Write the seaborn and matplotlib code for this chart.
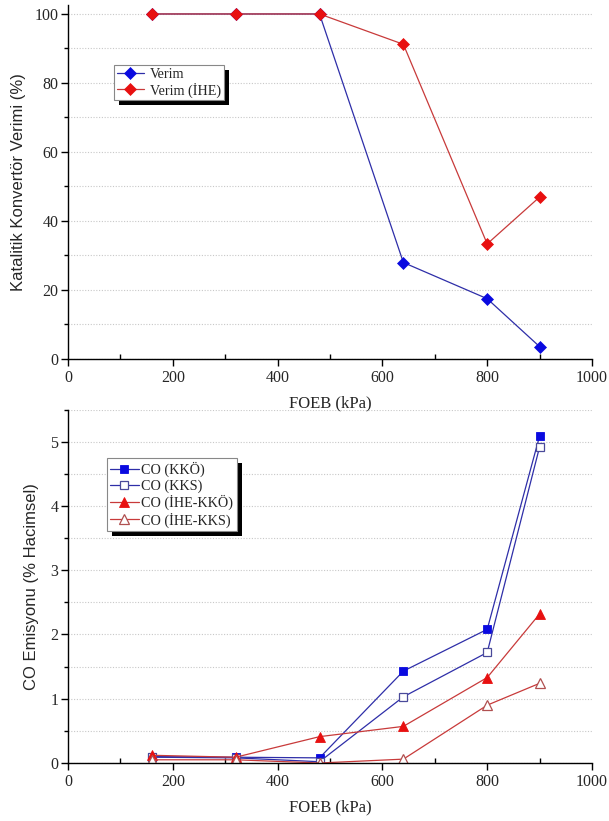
import numpy as np
import pandas as pd
import matplotlib
matplotlib.use("Agg")
import matplotlib.pyplot as plt
import seaborn as sns
from matplotlib.ticker import MultipleLocator
from matplotlib.patches import Rectangle

# ---------------- data ----------------
foeb = [160, 320, 480, 640, 800, 900]

verim = [100, 100, 100, 27.9, 17.4, 3.5]
verim_ihe = [100, 100, 100, 91.2, 33.3, 46.9]

co_kko = [0.10, 0.09, 0.08, 1.43, 2.08, 5.09]
co_kks = [0.09, 0.08, 0.02, 1.03, 1.72, 4.92]
co_ihe_kko = [0.12, 0.09, 0.41, 0.57, 1.33, 2.32]
co_ihe_kks = [0.05, 0.05, 0.00, 0.06, 0.90, 1.24]

x_ticks = [0, 200, 400, 600, 800, 1000]
top_yticks = [0, 20, 40, 60, 80, 100]
bot_yticks = [0, 1, 2, 3, 4, 5]

# ---------------- style ----------------
sns.set_style("ticks")
plt.rcParams["font.family"] = ["Liberation Serif", "DejaVu Serif"]

W, H = 609, 821
fig = plt.figure(figsize=(W / 100, H / 100), dpi=100)

BLUE_M = "#0a0ae0"
BLUE_L = "#2e2ea8"
RED_M = "#e81010"
RED_L = "#c83a3a"

ax2 = fig.add_axes([68 / W, 1 - 763 / H, 524 / W, 353.4 / H])
ax1 = fig.add_axes([68 / W, 1 - 358.7 / H, 524 / W, 353.7 / H])
ax2.patch.set_visible(False)
ax1.set_zorder(2)


def style_axes(ax):
    for s in ["top", "right"]:
        ax.spines[s].set_visible(False)
    for s in ["left", "bottom"]:
        ax.spines[s].set_color("black")
        ax.spines[s].set_linewidth(1.0)
    ax.set_xlim(0, 1000)
    ax.set_xticks(x_ticks)
    ax.xaxis.set_minor_locator(MultipleLocator(100))
    ax.tick_params(axis="x", which="major", direction="out", length=5, width=1,
                   labelsize=11.5, color="black", pad=3)
    ax.tick_params(axis="x", which="minor", direction="in", length=3.5, width=1,
                   color="black")
    ax.tick_params(axis="y", which="major", direction="out", length=5, width=1,
                   labelsize=11.5, color="black", pad=2)
    ax.tick_params(axis="y", which="minor", direction="out", length=3, width=1,
                   color="black")
    ax.yaxis.grid(True, which="both", linestyle=(0, (1, 1.5)), color="#c8c8c8",
                  linewidth=0.8)
    ax.xaxis.grid(False)
    ax.set_axisbelow(True)
    ax.set_xlabel("FOEB (kPa)", fontsize=12, labelpad=7)


def add_shadow(ax, leg, dx=5, dy=5):
    fig.canvas.draw()
    bb = leg.get_window_extent(fig.canvas.get_renderer())
    inv = ax.transAxes.inverted()
    (x0, y0) = inv.transform((bb.x0 + dx, bb.y0 - dy))
    (x1, y1) = inv.transform((bb.x1 + dx, bb.y1 - dy))
    r = Rectangle((x0, y0), x1 - x0, y1 - y0, transform=ax.transAxes,
                  facecolor="black", edgecolor="none", zorder=4.9, clip_on=False)
    ax.add_patch(r)


# ---------------- top chart ----------------
sns.lineplot(x=foeb, y=verim, ax=ax1, color=BLUE_L, linewidth=0.9, marker="D",
             markersize=6.5, markerfacecolor=BLUE_M, markeredgecolor=BLUE_M,
             markeredgewidth=0.5, label="Verim")
sns.lineplot(x=foeb, y=verim_ihe, ax=ax1, color=RED_L, linewidth=0.9, marker="D",
             markersize=6.5, markerfacecolor=RED_M, markeredgecolor=RED_M,
             markeredgewidth=0.5, label="Verim (İHE)")
style_axes(ax1)
ax1.set_ylim(0, 102.6)
ax1.set_yticks(top_yticks)
ax1.yaxis.set_minor_locator(MultipleLocator(10))
ax1.set_ylabel("Katalitik Konvertör Verimi (%)", fontsize=12,
               family=["Liberation Sans", "DejaVu Sans"], labelpad=6)

leg1 = ax1.legend(loc="upper left", bbox_to_anchor=(0.088, 0.830), borderaxespad=0,
                  fontsize=10.2, frameon=True, fancybox=False, edgecolor="#888888",
                  framealpha=1, handlelength=1.9, handletextpad=0.45,
                  borderpad=0.2, labelspacing=0.1)
leg1.get_frame().set_linewidth(0.8)
leg1.set_zorder(5)

# ---------------- bottom chart ----------------
sns.lineplot(x=foeb, y=co_kko, ax=ax2, color=BLUE_L, linewidth=0.9, marker="s",
             markersize=6, markerfacecolor=BLUE_M, markeredgecolor=BLUE_M,
             markeredgewidth=0.6, label="CO (KKÖ)")
sns.lineplot(x=foeb, y=co_kks, ax=ax2, color=BLUE_L, linewidth=0.9, marker="s",
             markersize=6, markerfacecolor="white", markeredgecolor="#4a4a9a",
             markeredgewidth=0.9, label="CO (KKS)")
sns.lineplot(x=foeb, y=co_ihe_kko, ax=ax2, color=RED_L, linewidth=0.9, marker="^",
             markersize=7, markerfacecolor=RED_M, markeredgecolor=RED_M,
             markeredgewidth=0.6, label="CO (İHE-KKÖ)")
sns.lineplot(x=foeb, y=co_ihe_kks, ax=ax2, color=RED_L, linewidth=0.9, marker="^",
             markersize=7, markerfacecolor="white", markeredgecolor="#b05050",
             markeredgewidth=0.9, label="CO (İHE-KKS)")
style_axes(ax2)
ax2.set_ylim(0, 5.5)
ax2.set_yticks(bot_yticks)
ax2.yaxis.set_minor_locator(MultipleLocator(0.5))
ax2.set_ylabel("CO Emisyonu (% Hacimsel)", fontsize=12,
               family=["Liberation Sans", "DejaVu Sans"], labelpad=8)

leg2 = ax2.legend(loc="upper left", bbox_to_anchor=(0.074, 0.862), borderaxespad=0,
                  fontsize=10.2, frameon=True, fancybox=False, edgecolor="#888888",
                  framealpha=1, handlelength=2.0, handletextpad=0.2,
                  borderpad=0.25, labelspacing=0.15)
leg2.get_frame().set_linewidth(0.8)
leg2.set_zorder(5)

add_shadow(ax1, leg1)
add_shadow(ax2, leg2)

fig.savefig("out.png", dpi=100)
